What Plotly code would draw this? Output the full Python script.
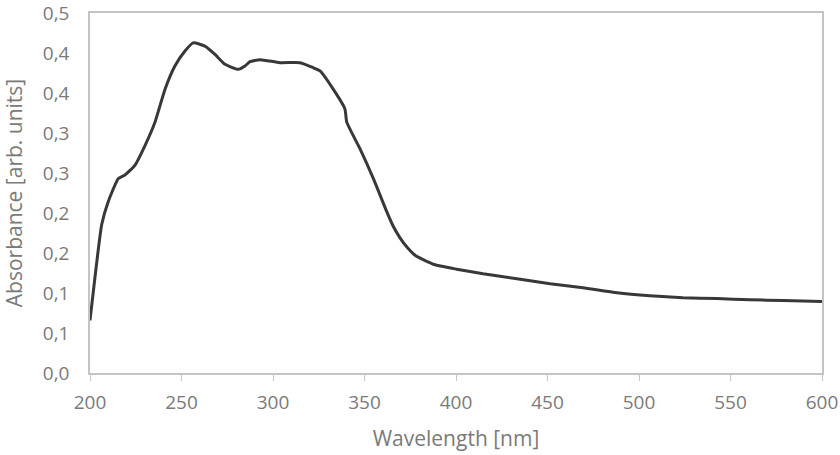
import plotly.graph_objects as go

wavelength = [200, 202.7, 206.4, 210.0, 215.5, 219.1, 224.6, 230.1, 235.5, 241.0, 246.4,
              251.9, 256.4, 262.8, 268.3, 273.8, 281.0, 284.7, 287.4, 292.9, 303.8, 314.8,
              321.9, 325.7, 332.9, 339.3, 340.3, 347.5, 354.8, 362.1, 365.7, 369.4, 373.5,
              378.0, 387.6, 400.4, 414.8, 433.3, 451.4, 469.4, 488.0, 506.0, 524.0, 542.6,
              560.7, 578.7, 600]
absorbance = [0.0657, 0.1194, 0.1856, 0.2145, 0.2433, 0.2476, 0.2600, 0.2847, 0.3136, 0.3549,
              0.3839, 0.4025, 0.4128, 0.4087, 0.3983, 0.3859, 0.3797, 0.3839, 0.3892, 0.3917,
              0.3880, 0.3880, 0.3818, 0.3777, 0.3549, 0.3301, 0.3136, 0.2805, 0.2433, 0.2021,
              0.1835, 0.1690, 0.1565, 0.1465, 0.1360, 0.1298, 0.1240, 0.1178, 0.1116, 0.1066,
              0.1004, 0.0967, 0.0942, 0.0930, 0.0917, 0.0905, 0.0893]

y_tick_vals = [0, 0.05, 0.10, 0.15, 0.20, 0.25, 0.30, 0.35, 0.40, 0.45]
y_tick_text = ["0,0", "0,1", "0,1", "0,2", "0,2", "0,3", "0,3", "0,4", "0,4", "0,5"]
x_tick_vals = [200, 250, 300, 350, 400, 450, 500, 550, 600]

txt = "#7a7a7a"
axc = "#c4c4c4"

fig = go.Figure()
fig.add_trace(go.Scatter(x=wavelength, y=absorbance, mode="lines",
                         line=dict(color="#383838", width=3, shape="spline", smoothing=0.5),
                         showlegend=False, hoverinfo="skip"))

fig.update_layout(
    width=840, height=455,
    margin=dict(l=90, r=18, t=13, b=82),
    paper_bgcolor="white", plot_bgcolor="white",
    font=dict(family="Open Sans", size=19, color=txt),
)
fig.update_xaxes(
    range=[200, 600], tickvals=x_tick_vals, ticks="outside", ticklen=6, tickcolor=axc,
    showline=True, linecolor=axc, linewidth=1.5, mirror=True, showgrid=False, zeroline=False,
    ticklabelstandoff=5, automargin=False, tickfont=dict(size=19, color=txt),
    ticklabeloverflow="allow",
    title=dict(text="Wavelength [nm]", standoff=18, font=dict(size=21, color=txt)),
)
fig.update_yaxes(
    range=[0, 0.4501], tickvals=y_tick_vals, ticktext=y_tick_text, ticks="",
    showline=True, linecolor=axc, linewidth=1.5, mirror=True, showgrid=False, zeroline=False,
    ticklabelstandoff=15, automargin=False, tickfont=dict(size=19, color=txt),
    ticklabeloverflow="allow",
    title=dict(text="Absorbance [arb. units]", standoff=18, font=dict(size=21, color=txt)),
)

fig.write_html("out.html")
